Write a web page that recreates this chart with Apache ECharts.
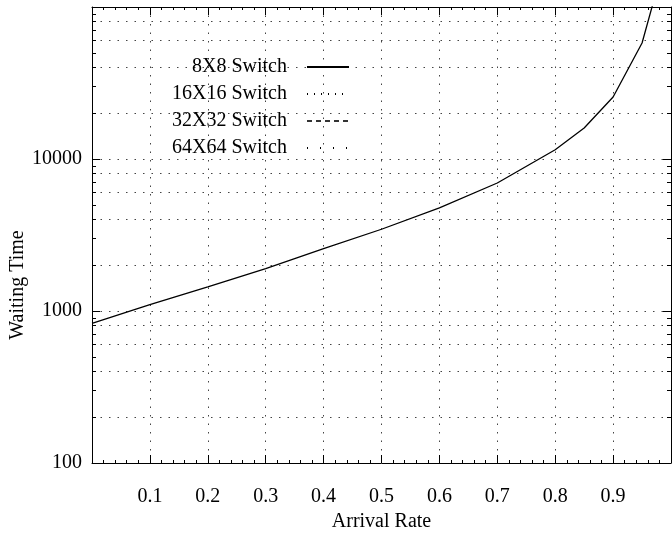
<!DOCTYPE html>
<html>
<head>
<meta charset="utf-8">
<script src="https://cdn.jsdelivr.net/npm/echarts@6/dist/echarts.min.js"></script>
<style>
html, body { margin: 0; padding: 0; background: #fff; }
#chart { width: 672px; height: 533px; }
</style>
</head>
<body>
<div id="chart"></div>
<script>
// arrival rate (x) and waiting time (y)
var arrivalRate = [0, 0.1, 0.2, 0.3, 0.4, 0.5, 0.6, 0.7, 0.8, 0.85, 0.9, 0.95, 0.98];
var wait8x8 = [830, 1100, 1440, 1900, 2570, 3450, 4770, 6950, 11500, 16000, 25600, 58000, 150000];
var wait16x16 = [];
var wait32x32 = [];
var wait64x64 = [];
var switchNames = ['8X8 Switch', '16X16 Switch', '32X32 Switch', '64X64 Switch'];

// log axis minor ticks and dotted grid rows
var yMinorTicks = [200, 300, 400, 500, 600, 700, 800, 900,
	2000, 3000, 4000, 5000, 6000, 7000, 8000, 9000,
	20000, 30000, 40000, 50000, 60000, 70000, 80000, 90000];
var yGridRows = [200, 400, 600, 800, 1000, 2000, 4000, 6000, 8000, 10000,
	20000, 40000, 60000, 80000];

var FONT = 'Liberation Serif';
var dots = [1.5, 7];

function pairs(ys) {
	return ys.map(function (y, i) { return [arrivalRate[i], y]; });
}

var chart = echarts.init(document.getElementById('chart'));

var option = {
	animation: false,
	backgroundColor: '#fff',
	grid: { left: 92, right: 1, top: 7, bottom: 70, outerBoundsMode: 'none', containLabel: false },
	legend: {
		orient: 'vertical',
		left: 172,
		top: 57,
		align: 'right',
		padding: 0,
		itemGap: 7,
		itemWidth: 42,
		itemHeight: 20,
		data: switchNames,
		itemStyle: { opacity: 0 },
		textStyle: { fontFamily: FONT, fontSize: 20, color: '#000', padding: [0, 15, 0, 0] }
	},
	xAxis: [
		{
			type: 'value', min: 0, max: 1, interval: 0.1, position: 'bottom',
			name: 'Arrival Rate', nameLocation: 'middle', nameGap: 48,
			nameTextStyle: { fontFamily: FONT, fontSize: 20, color: '#000' },
			axisLine: { lineStyle: { color: '#000', width: 1 } },
			axisTick: { inside: true, length: 8, lineStyle: { color: '#000' } },
			minorTick: { show: true, splitNumber: 5, length: 3, lineStyle: { color: '#000' } },
			axisLabel: { fontFamily: FONT, fontSize: 20, color: '#000', margin: 24, showMinLabel: false, showMaxLabel: false },
			splitLine: { show: true, showMinLine: false, showMaxLine: false, lineStyle: { color: '#444', type: dots } }
		},
		{
			type: 'value', min: 0, max: 1, interval: 0.1, position: 'top',
			axisLine: { lineStyle: { color: '#000', width: 1 } },
			axisTick: { inside: true, length: 8, lineStyle: { color: '#000' } },
			minorTick: { show: true, splitNumber: 5, length: 3, lineStyle: { color: '#000' } },
			axisLabel: { show: false },
			splitLine: { show: false }
		}
	],
	yAxis: [
		{
			type: 'log', logBase: 10, min: 100, max: 100000, position: 'left',
			name: 'Waiting Time', nameLocation: 'middle', nameGap: 64, nameMoveOverlap: false,
			nameTextStyle: { fontFamily: FONT, fontSize: 20, color: '#000', padding: [0, 100, 0, 0] },
			axisLine: { lineStyle: { color: '#000', width: 1 } },
			axisTick: { inside: true, length: 8, lineStyle: { color: '#000' } },
			axisLabel: {
				fontFamily: FONT, fontSize: 20, color: '#000', margin: 10, showMaxLabel: false,
				formatter: function (v) { return String(v); }
			},
			splitLine: { show: false }
		},
		{
			type: 'log', logBase: 10, min: 100, max: 100000, position: 'left',
			axisLine: { show: false },
			axisTick: { inside: true, length: 4, customValues: yMinorTicks, lineStyle: { color: '#000' } },
			axisLabel: { show: false },
			splitLine: { show: false }
		},
		{
			type: 'log', logBase: 10, min: 100, max: 100000, position: 'left',
			axisLine: { show: false },
			axisTick: { show: false, customValues: yGridRows },
			axisLabel: { show: false },
			splitLine: { show: true, lineStyle: { color: '#444', type: dots } }
		},
		{
			type: 'log', logBase: 10, min: 100, max: 100000, position: 'right',
			axisLine: { lineStyle: { color: '#000', width: 1 } },
			axisTick: { inside: true, length: 8, lineStyle: { color: '#000' } },
			axisLabel: { show: false },
			splitLine: { show: false }
		},
		{
			type: 'log', logBase: 10, min: 100, max: 100000, position: 'right',
			axisLine: { show: false },
			axisTick: { inside: true, length: 4, customValues: yMinorTicks, lineStyle: { color: '#000' } },
			axisLabel: { show: false },
			splitLine: { show: false }
		}
	],
	series: [
		{
			name: switchNames[0], type: 'line', symbol: 'none', clip: true,
			data: pairs(wait8x8),
			itemStyle: { color: '#000' },
			lineStyle: { color: '#000', width: 1.3, type: 'solid' }
		},
		{
			name: switchNames[1], type: 'line', symbol: 'none', clip: true,
			data: pairs(wait16x16),
			itemStyle: { color: '#000' },
			lineStyle: { color: '#000', width: 1, type: [1, 6] }
		},
		{
			name: switchNames[2], type: 'line', symbol: 'none', clip: true,
			data: pairs(wait32x32),
			itemStyle: { color: '#000' },
			lineStyle: { color: '#333', width: 1, type: [5, 4] }
		},
		{
			name: switchNames[3], type: 'line', symbol: 'none', clip: true,
			data: pairs(wait64x64),
			itemStyle: { color: '#000' },
			lineStyle: { color: '#000', width: 1, type: [1, 12] }
		}
	]
};

chart.setOption(option);
</script>
</body>
</html>
